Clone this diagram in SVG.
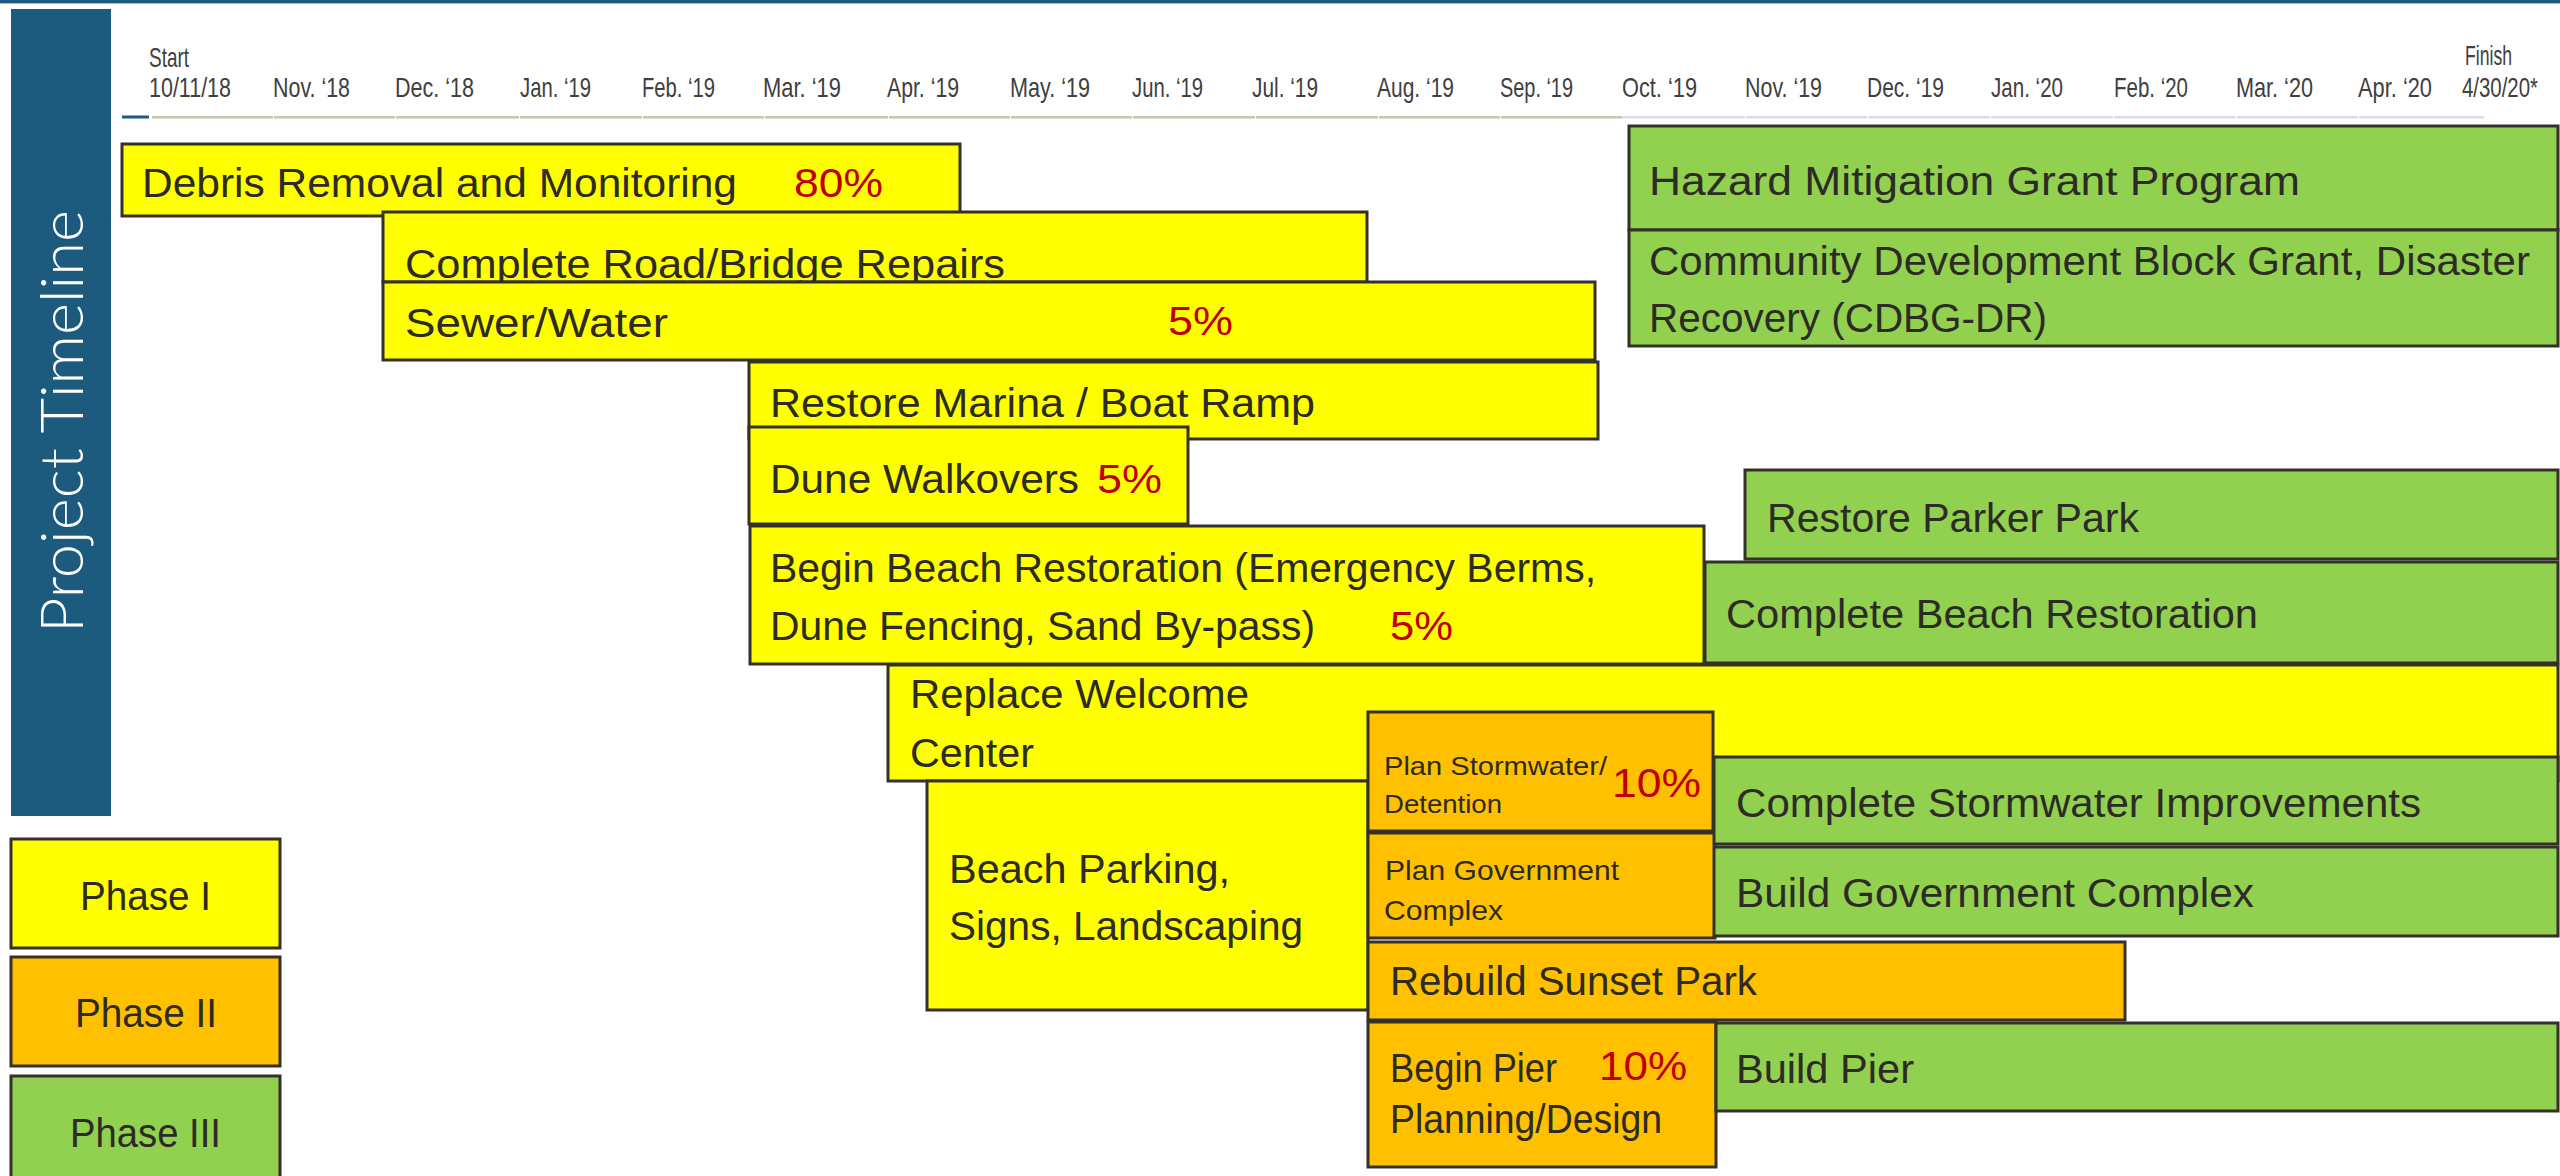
<svg xmlns="http://www.w3.org/2000/svg" width="2560" height="1176" viewBox="0 0 2560 1176">
<style>
.bar{stroke:#33312a;stroke-width:3}
.y{fill:#ffff00}.o{fill:#ffc000}.g{fill:#92d050}
.t{font-family:"Liberation Sans",Arial,sans-serif;font-size:40px;fill:#2d2b25}
.s{font-size:26px}
.m{font-size:28px}
.r{fill:#c00000}
.ax{font-family:"Liberation Sans",Arial,sans-serif;font-size:28px;fill:#404040}
.ttl{font-family:Lato,"Liberation Sans",sans-serif;font-weight:300;font-size:60px;fill:#ffffff}
</style>
<rect x="0" y="0" width="2560" height="1176" fill="#ffffff"/>
<rect x="0" y="0" width="2560" height="3" fill="#1d5b7e"/>
<rect x="0" y="3" width="2560" height="1" fill="#a9c0d0"/>
<g id="title">
<rect x="11" y="9" width="100" height="807" fill="#1d5b7e"/>
<text class="ttl" transform="translate(83,633) rotate(-90)" textLength="423" lengthAdjust="spacingAndGlyphs">Project Timeline</text>
</g>
<g id="axis">
<rect x="122" y="115.5" width="27" height="3" fill="#1d5b7e"/>
<rect x="152" y="116" width="1470" height="2.5" fill="#c7c6ae"/>
<rect x="1622" y="116" width="862" height="2.5" fill="#d6dde7"/>
<g fill="#ffffff">
<rect x="273" y="115" width="1" height="4"/><rect x="395" y="115" width="1" height="4"/><rect x="519" y="115" width="1" height="4"/><rect x="642" y="115" width="1" height="4"/><rect x="764" y="115" width="1" height="4"/><rect x="888" y="115" width="1" height="4"/><rect x="1010" y="115" width="1" height="4"/><rect x="1132" y="115" width="1" height="4"/><rect x="1255" y="115" width="1" height="4"/><rect x="1378" y="115" width="1" height="4"/><rect x="1500" y="115" width="1" height="4"/><rect x="1745" y="115" width="1" height="4"/><rect x="1867" y="115" width="1" height="4"/><rect x="1990" y="115" width="1" height="4"/><rect x="2113" y="115" width="1" height="4"/><rect x="2236" y="115" width="1" height="4"/><rect x="2358" y="115" width="1" height="4"/>
</g>
<text class="ax" x="149" y="67" textLength="40" lengthAdjust="spacingAndGlyphs">Start</text>
<text class="ax" x="149" y="97" textLength="82" lengthAdjust="spacingAndGlyphs">10/11/18</text>
<text class="ax" x="273" y="97" textLength="77" lengthAdjust="spacingAndGlyphs">Nov. ‘18</text>
<text class="ax" x="395" y="97" textLength="79" lengthAdjust="spacingAndGlyphs">Dec. ‘18</text>
<text class="ax" x="520" y="97" textLength="71" lengthAdjust="spacingAndGlyphs">Jan. ‘19</text>
<text class="ax" x="642" y="97" textLength="73" lengthAdjust="spacingAndGlyphs">Feb. ‘19</text>
<text class="ax" x="763" y="97" textLength="78" lengthAdjust="spacingAndGlyphs">Mar. ‘19</text>
<text class="ax" x="887" y="97" textLength="72" lengthAdjust="spacingAndGlyphs">Apr. ‘19</text>
<text class="ax" x="1010" y="97" textLength="80" lengthAdjust="spacingAndGlyphs">May. ‘19</text>
<text class="ax" x="1132" y="97" textLength="71" lengthAdjust="spacingAndGlyphs">Jun. ‘19</text>
<text class="ax" x="1252" y="97" textLength="66" lengthAdjust="spacingAndGlyphs">Jul. ‘19</text>
<text class="ax" x="1377" y="97" textLength="77" lengthAdjust="spacingAndGlyphs">Aug. ‘19</text>
<text class="ax" x="1500" y="97" textLength="73" lengthAdjust="spacingAndGlyphs">Sep. ‘19</text>
<text class="ax" x="1622" y="97" textLength="75" lengthAdjust="spacingAndGlyphs">Oct. ‘19</text>
<text class="ax" x="1745" y="97" textLength="77" lengthAdjust="spacingAndGlyphs">Nov. ‘19</text>
<text class="ax" x="1867" y="97" textLength="77" lengthAdjust="spacingAndGlyphs">Dec. ‘19</text>
<text class="ax" x="1991" y="97" textLength="72" lengthAdjust="spacingAndGlyphs">Jan. ‘20</text>
<text class="ax" x="2114" y="97" textLength="74" lengthAdjust="spacingAndGlyphs">Feb. ‘20</text>
<text class="ax" x="2236" y="97" textLength="77" lengthAdjust="spacingAndGlyphs">Mar. ‘20</text>
<text class="ax" x="2358" y="97" textLength="74" lengthAdjust="spacingAndGlyphs">Apr. ‘20</text>
<text class="ax" x="2465" y="65" textLength="47" lengthAdjust="spacingAndGlyphs">Finish</text>
<text class="ax" x="2462" y="97" textLength="76" lengthAdjust="spacingAndGlyphs">4/30/20*</text>
</g>
<g id="connectors"></g>
<g id="debris"><rect class="bar y" x="122" y="144" width="838" height="72"/>
<text class="t" x="142" y="197" textLength="595" lengthAdjust="spacingAndGlyphs">Debris Removal and Monitoring</text>
<text class="t r" x="794" y="197" textLength="89" lengthAdjust="spacingAndGlyphs">80%</text></g>
<g id="road"><rect class="bar y" x="383" y="212" width="984" height="70"/>
<text class="t" x="405" y="278" textLength="600" lengthAdjust="spacingAndGlyphs">Complete Road/Bridge Repairs</text></g>
<g id="sewer"><rect class="bar y" x="383" y="282" width="1212" height="78"/>
<text class="t" x="405" y="337" textLength="263" lengthAdjust="spacingAndGlyphs">Sewer/Water</text>
<text class="t r" x="1168" y="335" textLength="65" lengthAdjust="spacingAndGlyphs">5%</text></g>
<g id="marina"><rect class="bar y" x="749" y="362" width="849" height="77"/>
<text class="t" x="770" y="417" textLength="545" lengthAdjust="spacingAndGlyphs">Restore Marina / Boat Ramp</text></g>
<g id="dune"><rect class="bar y" x="749" y="427" width="439" height="97"/>
<text class="t" x="770" y="493" textLength="309" lengthAdjust="spacingAndGlyphs">Dune Walkovers</text>
<text class="t r" x="1097" y="493" textLength="65" lengthAdjust="spacingAndGlyphs">5%</text></g>
<g id="beginbeach"><rect class="bar y" x="750" y="526" width="954" height="138"/>
<text class="t" x="770" y="582" textLength="826" lengthAdjust="spacingAndGlyphs">Begin Beach Restoration (Emergency Berms,</text>
<text class="t" x="770" y="640" textLength="545" lengthAdjust="spacingAndGlyphs">Dune Fencing, Sand By-pass)</text>
<text class="t r" x="1390" y="640" textLength="63" lengthAdjust="spacingAndGlyphs">5%</text></g>
<g id="parker"><rect class="bar g" x="1745" y="470" width="813" height="89"/>
<text class="t" x="1767" y="532" textLength="372" lengthAdjust="spacingAndGlyphs">Restore Parker Park</text></g>
<g id="completebeach"><rect class="bar g" x="1705" y="562" width="853" height="101"/>
<text class="t" x="1726" y="628" textLength="532" lengthAdjust="spacingAndGlyphs">Complete Beach Restoration</text></g>
<g id="welcome"><rect class="bar y" x="888" y="665" width="1670" height="116"/>
<text class="t" x="910" y="708" textLength="339" lengthAdjust="spacingAndGlyphs">Replace Welcome</text>
<text class="t" x="910" y="767" textLength="124" lengthAdjust="spacingAndGlyphs">Center</text></g>
<g id="parking"><rect class="bar y" x="927" y="781" width="441" height="229"/>
<text class="t" x="949" y="883" textLength="281" lengthAdjust="spacingAndGlyphs">Beach Parking,</text>
<text class="t" x="949" y="940" textLength="354" lengthAdjust="spacingAndGlyphs">Signs, Landscaping</text></g>
<g id="planstorm"><rect class="bar o" x="1368" y="712" width="345" height="119"/>
<text class="t s" x="1384" y="775" textLength="223" lengthAdjust="spacingAndGlyphs">Plan Stormwater/</text>
<text class="t s" x="1384" y="813" textLength="118" lengthAdjust="spacingAndGlyphs">Detention</text>
<text class="t r" x="1612" y="797" textLength="89" lengthAdjust="spacingAndGlyphs">10%</text></g>
<g id="plangov"><rect class="bar o" x="1368" y="833" width="347" height="105"/>
<text class="t m" x="1385" y="880" textLength="234" lengthAdjust="spacingAndGlyphs">Plan Government</text>
<text class="t m" x="1384" y="920" textLength="119" lengthAdjust="spacingAndGlyphs">Complex</text></g>
<g id="sunset"><rect class="bar o" x="1368" y="942" width="757" height="78"/>
<text class="t" x="1390" y="995" textLength="367" lengthAdjust="spacingAndGlyphs">Rebuild Sunset Park</text></g>
<g id="pierplan"><rect class="bar o" x="1368" y="1022" width="348" height="145"/>
<text class="t" x="1390" y="1082" textLength="167" lengthAdjust="spacingAndGlyphs">Begin Pier</text>
<text class="t" x="1390" y="1133" textLength="272" lengthAdjust="spacingAndGlyphs">Planning/Design</text>
<text class="t r" x="1599" y="1080" textLength="88" lengthAdjust="spacingAndGlyphs">10%</text></g>
<g id="compstorm"><rect class="bar g" x="1714" y="757" width="844" height="87"/>
<text class="t" x="1736" y="817" textLength="685" lengthAdjust="spacingAndGlyphs">Complete Stormwater Improvements</text></g>
<g id="buildgov"><rect class="bar g" x="1714" y="847" width="844" height="89"/>
<text class="t" x="1736" y="907" textLength="518" lengthAdjust="spacingAndGlyphs">Build Government Complex</text></g>
<g id="buildpier"><rect class="bar g" x="1716" y="1023" width="842" height="88"/>
<text class="t" x="1736" y="1083" textLength="178" lengthAdjust="spacingAndGlyphs">Build Pier</text></g>
<g id="hazard"><rect class="bar g" x="1629" y="126" width="929" height="104"/>
<text class="t" x="1649" y="195" textLength="651" lengthAdjust="spacingAndGlyphs">Hazard Mitigation Grant Program</text></g>
<g id="cdbg"><rect class="bar g" x="1629" y="230" width="929" height="116"/>
<text class="t" x="1649" y="275" textLength="881" lengthAdjust="spacingAndGlyphs">Community Development Block Grant, Disaster</text>
<text class="t" x="1649" y="332" textLength="398" lengthAdjust="spacingAndGlyphs">Recovery (CDBG-DR)</text></g>
<g id="phase1"><rect class="bar y" x="11" y="839" width="269" height="109"/>
<text class="t" x="80" y="910" textLength="131" lengthAdjust="spacingAndGlyphs">Phase I</text></g>
<g id="phase2"><rect class="bar o" x="11" y="957" width="269" height="109"/>
<text class="t" x="75" y="1027" textLength="142" lengthAdjust="spacingAndGlyphs">Phase II</text></g>
<g id="phase3"><rect class="bar g" x="11" y="1076" width="269" height="115"/>
<text class="t" x="70" y="1147" textLength="151" lengthAdjust="spacingAndGlyphs">Phase III</text></g>
</svg>
